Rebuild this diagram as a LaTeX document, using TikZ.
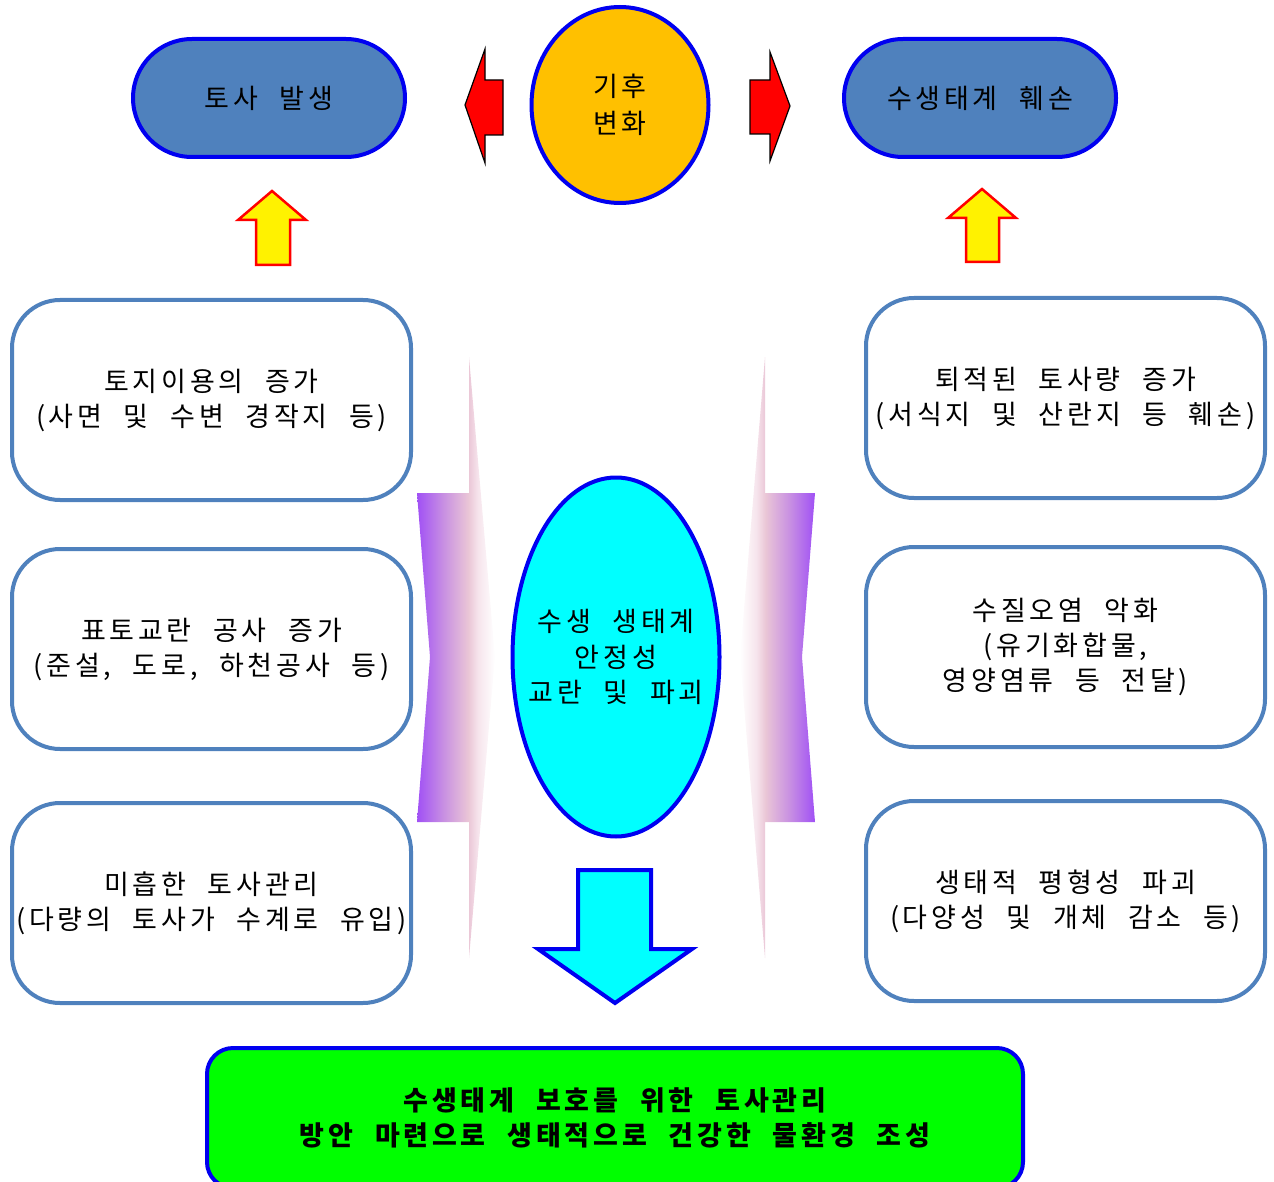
\documentclass[tikz,border=0pt]{standalone}
\usepackage{fontspec}
\setmainfont{Noto Sans CJK KR}[LetterSpace=14,WordSpace=2.2]
\usetikzlibrary{shapes.geometric}
\definecolor{pillblue}{HTML}{4F81BD}
\definecolor{rimblue}{HTML}{0000F0}
\definecolor{boxrim}{HTML}{4F81BD}
\definecolor{climorange}{HTML}{FFC000}
\definecolor{ecocyan}{HTML}{00FFFF}
\definecolor{goalgreen}{HTML}{00FF00}
\definecolor{purpA}{HTML}{A050F5}
\definecolor{purpB}{HTML}{C890E2}
\definecolor{pinkC}{HTML}{EAC6D6}
\definecolor{pinkD}{HTML}{F6E4EC}
\pgfdeclarehorizontalshading{fadeR}{100bp}{color(0bp)=(purpA); color(25bp)=(purpA); color(42bp)=(purpB); color(58bp)=(pinkC); color(64bp)=(pinkD); color(75bp)=(white); color(100bp)=(white)}
\pgfdeclarehorizontalshading{fadeL}{100bp}{color(0bp)=(white); color(25bp)=(white); color(36bp)=(pinkD); color(42bp)=(pinkC); color(58bp)=(purpB); color(75bp)=(purpA); color(100bp)=(purpA)}
\begin{document}
\begin{tikzpicture}[x=1pt,y=-1pt,
  txt/.style={font=\fontsize{27}{35}\selectfont, align=center, text=black},
  pill/.style={txt, draw=rimblue, fill=pillblue, line width=4pt, rounded corners=59pt, minimum width=272pt, minimum height=118pt},
  sbox/.style={txt, draw=boxrim, fill=white, line width=4pt, rounded corners=48pt, minimum width=399pt, minimum height=200pt, inner sep=0pt},
  oval/.style={ellipse, draw=rimblue, line width=4pt, inner sep=0pt},
  redarrow/.style={fill=red, draw=black, line width=1.2pt, line join=miter},
  yelarrow/.style={fill=yellow, draw=red, line width=2.5pt, line join=miter},
  cyanarrow/.style={fill=ecocyan, draw=rimblue, line width=4pt, line join=miter},
]
\useasboundingbox (0,0) rectangle (1274,1182);
\clip (0,0) rectangle (1274,1182);

% faded purple shapes
\path[shading=fadeR] (417,493) -- (469,493) -- (469,357) -- (495,657) -- (469,958) -- (469,822) -- (417,822) -- (430,657) -- cycle;
\path[shading=fadeL] (815,493) -- (765,493) -- (765,357) -- (740,657) -- (765,958) -- (765,822) -- (815,822) -- (802,657) -- cycle;

% top row
\node[pill] (tosa) at (269,98) {토사 발생};
\node[pill] (damage) at (980,98) {수생태계 훼손};
\node[oval, fill=climorange, minimum width=177pt, minimum height=196pt] (clim) at (620,105) {};
\node[txt, font=\fontsize{27}{37}\selectfont] (climtext) at (clim.center) {기후\\변화};

% red arrows
\draw[redarrow] (465,105) -- (485,49) -- (485,80) -- (503,80) -- (503,135) -- (485,135) -- (485,163) -- cycle;
\draw[redarrow] (790,106) -- (770,52) -- (770,80) -- (750,80) -- (750,134) -- (770,134) -- (770,161) -- cycle;

% yellow arrows
\draw[yelarrow] (272,191) -- (306,220) -- (290,220) -- (290,265) -- (256,265) -- (256,220) -- (238,220) -- cycle;
\draw[yelarrow] (982,189) -- (1016,218) -- (999,218) -- (999,262) -- (966,262) -- (966,218) -- (948,218) -- cycle;

% left boxes
\node[sbox] (l1) at (211.5,400) {토지이용의 증가\\(사면 및 수변 경작지 등)};
\node[sbox] (l2) at (211.5,649) {표토교란 공사 증가\\(준설, 도로, 하천공사 등)};
\node[sbox] (l3) at (211.5,903) {미흡한 토사관리\\(다량의 토사가 수계로 유입)};

% right boxes
\node[sbox] (r1) at (1065.5,398) {퇴적된 토사량 증가\\(서식지 및 산란지 등 훼손)};
\node[sbox] (r2) at (1065.5,647) {수질오염 악화\\(유기화합물,\\영양염류 등 전달)};
\node[sbox] (r3) at (1065.5,901) {생태적 평형성 파괴\\(다양성 및 개체 감소 등)};

% central ellipse
\node[oval, fill=ecocyan, minimum width=207pt, minimum height=359pt] (eco) at (616,657) {};
\node[txt, font=\fontsize{27}{35.5}\selectfont] (ecotext) at (eco.center) {수생 생태계\\안정성\\교란 및 파괴};

% cyan down arrow
\draw[cyanarrow] (578,870) -- (651,870) -- (651,949) -- (692,949) -- (615,1003) -- (538,949) -- (578,949) -- cycle;

% goal box
\node[txt, font=\fontsize{27}{35}\selectfont\bfseries, draw=rimblue, fill=goalgreen, line width=4pt, rounded corners=26pt, minimum width=816pt, minimum height=140pt] (goal) at (615,1118) {수생태계 보호를 위한 토사관리\\방안 마련으로 생태적으로 건강한 물환경 조성};
\end{tikzpicture}
\end{document}
